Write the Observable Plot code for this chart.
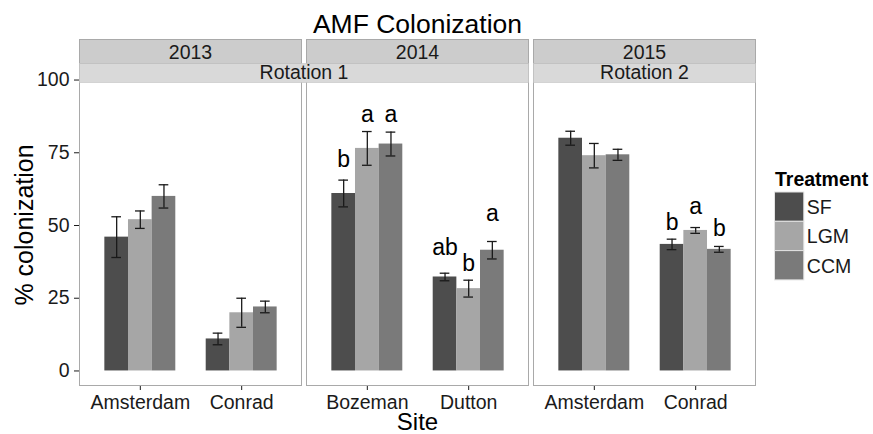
<!DOCTYPE html>
<html>
<head>
<meta charset="utf-8">
<script src="https://cdn.jsdelivr.net/npm/d3@7"></script>
<script src="https://cdn.jsdelivr.net/npm/@observablehq/plot@0.6"></script>
<style>
  html, body { margin: 0; padding: 0; background: #fff; }
  #chart { position: relative; width: 873px; height: 434px; overflow: hidden;
           font-family: "Liberation Sans", Arial, Helvetica, sans-serif; }
  #chart svg { position: absolute; top: 0; }
</style>
</head>
<body>
<div id="chart"></div>
<script>
// Treatments and their grey fills
const treatments = ["SF", "LGM", "CCM"];
const treatmentFills = ["#4d4d4d", "#a6a6a6", "#7a7a7a"];

// Facet panels
const years = ["2013", "2014", "2015"];
const rotations = ["Rotation 1", "Rotation 2"];
const rotationSpan = [[0, 1], [2, 2]]; // first and last panel of each rotation

// One group of three bars per year/site
const groupYear = ["2013", "2013", "2014", "2014", "2015", "2015"];
const groupSite = ["Amsterdam", "Conrad", "Bozeman", "Dutton", "Amsterdam", "Conrad"];
// mean % colonization (SF, LGM, CCM) and standard errors
const meanColonization = [
  [46, 52, 60],
  [11, 20, 22],
  [61, 76.5, 78],
  [32.3, 28.3, 41.5],
  [80, 74, 74.3],
  [43.5, 48.3, 41.8]
];
const seColonization = [
  [7, 3, 4],
  [2, 5, 2],
  [4.6, 5.8, 4.1],
  [1.3, 2.9, 3],
  [2.4, 4.2, 1.9],
  [1.8, 1.0, 1.0]
];

// Mean separation letters (group index, treatment, letter, baseline height)
const letterGroup = [2, 2, 2, 3, 3, 3, 5, 5, 5];
const letterTreatment = ["SF", "LGM", "CCM", "SF", "LGM", "CCM", "SF", "LGM", "CCM"];
const letterText = ["b", "a", "a", "ab", "b", "a", "b", "a", "b"];
const letterY = [70.1, 85.6, 85.6, 39.7, 34.5, 51.6, 48.3, 54.0, 46.3];

const yTicks = [0, 25, 50, 75, 100];
const yDomain = [-5, 105];

// Build tidy rows
const bars = [];
groupYear.forEach((year, g) => {
  treatments.forEach((t, k) => {
    const m = meanColonization[g][k], se = seColonization[g][k];
    bars.push({year, site: groupSite[g], treatment: t, mean: m, lo: m - se, hi: m + se});
  });
});
const letters = letterText.map((text, i) => ({
  year: groupYear[letterGroup[i]], site: groupSite[letterGroup[i]],
  treatment: letterTreatment[i], text, y: letterY[i]
}));

// Panel geometry
const panelLeft = [79, 306, 533];
const panelWidth = 223;
const plotTop = 65, plotBottom = 385, H = 434;
const textColor = "#1a1a1a";
const borderColor = "#a9a9a9";
const baseStyle = {fontFamily: "Liberation Sans, Arial, sans-serif", fontSize: "19.5px",
                   color: textColor, background: "transparent", overflow: "visible"};

const chart = document.getElementById("chart");

// Shared y axis, drawn once at the left edge of the first panel
const yAxis = Plot.plot({
  width: panelLeft[0] + 1, height: H,
  marginLeft: panelLeft[0], marginRight: 1,
  marginTop: plotTop, marginBottom: H - plotBottom,
  style: baseStyle,
  x: {axis: null},
  y: {domain: yDomain, ticks: yTicks, tickSize: 5, tickPadding: 5, label: null, axis: "left"},
  marks: [Plot.ruleY(yTicks, {strokeOpacity: 0})]
});
yAxis.style.left = "0px";
chart.appendChild(yAxis);

// One faceted bar chart per year: facets are sites, bars within are treatments
years.forEach((year, i) => {
  const rows = bars.filter(d => d.year === year);
  const sites = groupSite.filter((s, g) => groupYear[g] === year);
  const svg = Plot.plot({
    width: panelWidth,
    height: H,
    marginLeft: 0,
    marginRight: 0,
    marginTop: plotTop,
    marginBottom: H - plotBottom,
    style: baseStyle,
    fx: {domain: sites, paddingInner: 0.3, paddingOuter: 0.25, round: false,
         axis: "bottom", tickSize: 5, tickPadding: 5, label: null},
    x: {domain: treatments, padding: 0, round: false, axis: null},
    y: {domain: yDomain, axis: null},
    color: {domain: treatments, range: treatmentFills},
    marks: [
      Plot.barY(rows, {fx: "site", x: "treatment", y: "mean", fill: "treatment"}),
      Plot.ruleX(rows, {fx: "site", x: "treatment", y1: "lo", y2: "hi", stroke: textColor, strokeWidth: 1.3}),
      Plot.tickY(rows, {fx: "site", x: "treatment", y: "hi", stroke: textColor, strokeWidth: 1.3, insetLeft: 7, insetRight: 7}),
      Plot.tickY(rows, {fx: "site", x: "treatment", y: "lo", stroke: textColor, strokeWidth: 1.3, insetLeft: 7, insetRight: 7}),
      Plot.text(letters.filter(d => d.year === year), {fx: "site", x: "treatment", y: "y", text: "text",
        lineAnchor: "bottom", fontSize: 23, fill: "#000"})
    ]
  });
  svg.style.left = panelLeft[i] + "px";
  chart.appendChild(svg);
});

// Panel frames, facet strips, titles and legend
const over = d3.select(chart).append("svg")
  .attr("width", 873).attr("height", H)
  .style("left", "0px")
  .attr("font-family", "Liberation Sans, Arial, sans-serif");

const stripTop = 39, stripMid = 63, stripBottom = 83;
const panelsCenter = (panelLeft[0] + panelLeft[2] + panelWidth) / 2;

years.forEach((year, i) => {
  over.append("rect")
    .attr("x", panelLeft[i] + 0.5).attr("y", stripTop + 0.5)
    .attr("width", panelWidth - 1).attr("height", plotBottom - stripTop)
    .attr("fill", "none").attr("stroke", borderColor);
  over.append("rect")
    .attr("x", panelLeft[i] + 0.5).attr("y", stripTop + 0.5)
    .attr("width", panelWidth - 1).attr("height", stripMid - stripTop)
    .attr("fill", "#cccccc").attr("stroke", borderColor);
  over.append("text")
    .attr("x", panelLeft[i] + panelWidth / 2).attr("y", 59)
    .attr("text-anchor", "middle").attr("font-size", 19.5).attr("fill", textColor)
    .text(year);
});

rotations.forEach((rot, r) => {
  const [a, b] = rotationSpan[r];
  const x0 = panelLeft[a], x1 = panelLeft[b] + panelWidth;
  over.append("rect")
    .attr("x", x0 + 0.5).attr("y", stripMid + 0.5)
    .attr("width", x1 - x0 - 1).attr("height", stripBottom - stripMid - 1)
    .attr("fill", "#d9d9d9").attr("stroke", "#c4c4c4").attr("stroke-width", 0.6);
  over.append("text")
    .attr("x", (x0 + x1) / 2).attr("y", 79)
    .attr("text-anchor", "middle").attr("font-size", 19.5).attr("fill", textColor)
    .text(rot);
});

over.append("text")
  .attr("x", panelsCenter).attr("y", 33).attr("text-anchor", "middle")
  .attr("font-size", 26.5).attr("fill", "#000").text("AMF Colonization");

over.append("text")
  .attr("x", panelsCenter).attr("y", 430)
  .attr("text-anchor", "middle").attr("font-size", 24).attr("fill", "#000").text("Site");

over.append("text")
  .attr("transform", `translate(33,${(plotTop + plotBottom) / 2}) rotate(-90)`)
  .attr("text-anchor", "middle").attr("font-size", 25).attr("fill", "#000").text("% colonization");

// Legend
const legend = over.append("g").attr("transform", "translate(774,0)");
legend.append("text").attr("x", 1).attr("y", 186)
  .attr("font-size", 19.5).attr("font-weight", "bold").attr("fill", "#000").text("Treatment");
const keySize = 29.3;
treatments.forEach((t, k) => {
  legend.append("rect")
    .attr("x", 0.5).attr("y", 192 + k * keySize)
    .attr("width", keySize).attr("height", keySize)
    .attr("fill", treatmentFills[k]).attr("stroke", "#e3e3e3").attr("stroke-width", 1);
  legend.append("text")
    .attr("x", keySize + 3.5).attr("y", 192 + k * keySize + keySize / 2 + 7.3)
    .attr("font-size", 19.5).attr("fill", textColor).text(t);
});
</script>
</body>
</html>
